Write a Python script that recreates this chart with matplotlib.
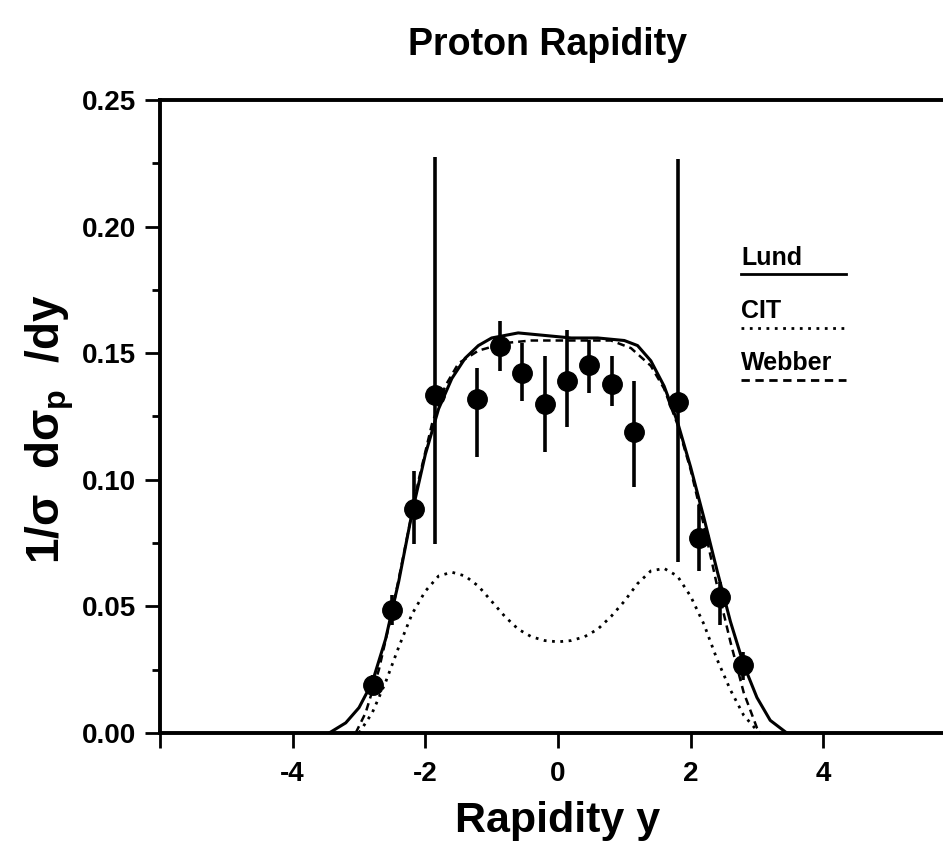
"""Proton rapidity distribution with Lund, CIT and Webber model curves."""
import numpy as np
from matplotlib import pyplot as plt

# Measured points
data_y = [-2.79, -2.50, -2.17, -1.855, -1.22, -0.875, -0.54, -0.196,
          0.136, 0.47, 0.81, 1.15, 1.81, 2.13, 2.44, 2.79]
data_val = [0.019, 0.0486, 0.0885, 0.1335, 0.132, 0.1528, 0.142, 0.130,
            0.139, 0.1453, 0.138, 0.119, 0.1307, 0.077, 0.0537, 0.0269]
err_low = [0.004, 0.006, 0.014, 0.059, 0.023, 0.010, 0.011, 0.019,
           0.018, 0.011, 0.009, 0.022, 0.063, 0.013, 0.011, 0.006]
err_high = [0.004, 0.006, 0.015, 0.094, 0.012, 0.010, 0.012, 0.019,
            0.020, 0.010, 0.011, 0.020, 0.096, 0.013, 0.006, 0.005]

# Lund model (solid)
lund_y = [-3.45, -3.2, -3.0, -2.8, -2.6, -2.4, -2.2, -2.0, -1.8, -1.6, -1.4,
          -1.2, -1.0, -0.6, -0.2, 0.2, 0.6, 1.0, 1.2, 1.4, 1.6, 1.8, 2.0,
          2.2, 2.4, 2.6, 2.8, 3.0, 3.2, 3.45]
lund_val = [0.0, 0.004, 0.010, 0.020, 0.037, 0.060, 0.087, 0.110, 0.128,
            0.140, 0.148, 0.153, 0.156, 0.158, 0.157, 0.156, 0.156, 0.155,
            0.153, 0.147, 0.137, 0.123, 0.105, 0.085, 0.064, 0.044, 0.027,
            0.014, 0.005, 0.0]

# CIT model (dotted)
cit_y = [-3.0, -2.8, -2.6, -2.4, -2.2, -2.0, -1.8, -1.6, -1.4, -1.2, -1.0,
         -0.8, -0.6, -0.4, -0.2, 0.0, 0.2, 0.4, 0.6, 0.8, 1.0, 1.2, 1.4,
         1.6, 1.8, 2.0, 2.2, 2.4, 2.6, 2.8, 3.0, 3.05]
cit_val = [0.0, 0.008, 0.020, 0.034, 0.047, 0.056, 0.062, 0.0635, 0.062,
           0.058, 0.052, 0.046, 0.041, 0.038, 0.0365, 0.036, 0.0365, 0.038,
           0.041, 0.046, 0.052, 0.059, 0.064, 0.065, 0.062, 0.054, 0.043,
           0.029, 0.017, 0.007, 0.001, 0.0]

# Webber model (dashed)
webber_y = [-3.05, -2.9, -2.7, -2.5, -2.3, -2.1, -1.9, -1.7, -1.5, -1.2,
            -0.8, -0.4, 0.0, 0.4, 0.8, 1.1, 1.4, 1.6, 1.8, 2.0, 2.2, 2.4,
            2.6, 2.8, 3.0, 3.05]
webber_val = [0.0, 0.008, 0.025, 0.048, 0.074, 0.100, 0.122, 0.137, 0.146,
              0.151, 0.154, 0.155, 0.155, 0.155, 0.155, 0.152, 0.145, 0.136,
              0.122, 0.104, 0.082, 0.058, 0.036, 0.016, 0.002, 0.0]

MODEL_NAMES = ['Lund', 'CIT', 'Webber']
MODEL_STYLES = ['-', (0, (1, 2)), (0, (3, 2))]

plt.rcParams['font.family'] = ['Liberation Sans', 'DejaVu Sans']
plt.rcParams['mathtext.fontset'] = 'custom'
plt.rcParams['mathtext.rm'] = 'Liberation Sans:bold'
plt.rcParams['mathtext.it'] = 'Liberation Sans:bold'
plt.rcParams['mathtext.bf'] = 'Liberation Sans:bold'

fig = plt.figure(figsize=(9.43, 8.55), dpi=100)
ax = fig.add_axes([0.1697, 0.1427, 0.844, 0.7404])

ax.plot(lund_y, lund_val, color='black', lw=2.2, ls=MODEL_STYLES[0])
ax.plot(cit_y, cit_val, color='black', lw=2.0, ls=MODEL_STYLES[1])
ax.plot(webber_y, webber_val, color='black', lw=1.8, ls=MODEL_STYLES[2])

ax.errorbar(data_y, data_val, yerr=[err_low, err_high], fmt='o', color='black',
            ms=14, elinewidth=2.6, capsize=0, zorder=5)

# Hand-made legend: label above a short sample line
leg_text_y = [0.185, 0.164, 0.1434]
leg_line_y = [0.1813, 0.160, 0.1394]
for name, style, ty, ly in zip(MODEL_NAMES, MODEL_STYLES, leg_text_y, leg_line_y):
    ax.text(2.76, ty, name, fontsize=18, fontweight='bold', va='baseline')
    ax.plot([2.76, 4.34], [ly, ly], color='black', lw=2.0, ls=style)

ax.set_xlim(-6, 6)
ax.set_ylim(0, 0.25)
ax.set_xticks([-6, -4, -2, 0, 2, 4])
ax.set_xticklabels(['', '-4', '-2', '0', '2', '4'])
ax.set_yticks([0.0, 0.05, 0.10, 0.15, 0.20, 0.25])
ax.set_yticklabels(['0.00', '0.05', '0.10', '0.15', '0.20', '0.25'])
ax.set_yticks([0.025, 0.075, 0.125, 0.175, 0.225], minor=True)

for side in ['left', 'bottom', 'top']:
    ax.spines[side].set_linewidth(2.8)
ax.spines['right'].set_visible(False)

ax.tick_params(axis='both', which='major', direction='out', length=11,
               width=2.0, labelsize=20, pad=6)
ax.tick_params(axis='x', which='major', pad=9)
ax.tick_params(axis='y', which='minor', direction='out', length=6, width=2.0)
for lbl in ax.get_xticklabels() + ax.get_yticklabels():
    lbl.set_fontweight('bold')

ax.set_xlabel('Rapidity y', fontsize=31, fontweight='bold', labelpad=10)
ax.set_ylabel('1/σ  dσ$_{\\rm p}$  /dy', fontsize=33, fontweight='bold')
ax.yaxis.set_label_coords(-0.105, 0.479)
fig.text(0.581, 0.947, 'Proton Rapidity', fontsize=27, fontweight='bold',
         ha='center', va='center')

plt.savefig('out.png', dpi=100)
